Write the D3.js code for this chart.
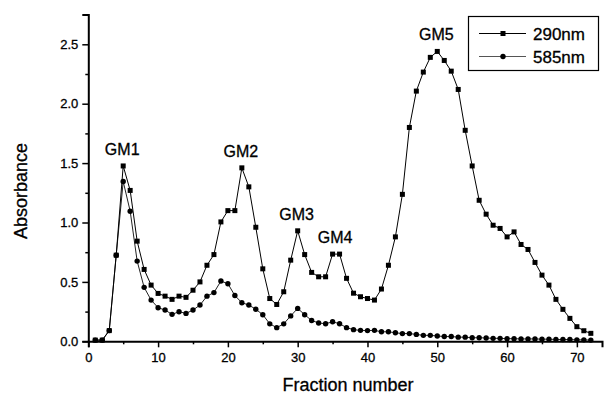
<!DOCTYPE html>
<html>
<head>
<meta charset="utf-8">
<script src="https://cdn.jsdelivr.net/npm/d3@7"></script>
<style>
  html, body { margin: 0; padding: 0; background: #fff; }
  svg { display: block; font-family: "Liberation Sans", Arial, sans-serif; }
  svg text { stroke: #000; stroke-width: 0.3px; }
</style>
</head>
<body>
<svg id="chart" width="606" height="396"></svg>
<script>
const fractions = [
  1, 2, 3, 4, 5, 6, 7, 8, 9, 10, 11, 12, 13, 14, 15, 16, 17, 18,
  19, 20, 21, 22, 23, 24, 25, 26, 27, 28, 29, 30, 31, 32, 33, 34, 35, 36,
  37, 38, 39, 40, 41, 42, 43, 44, 45, 46, 47, 48, 49, 50, 51, 52, 53, 54,
  55, 56, 57, 58, 59, 60, 61, 62, 63, 64, 65, 66, 67, 68, 69, 70, 71, 72
];

const abs290 = [
  0.01, 0.01, 0.09, 0.725, 1.476, 1.27, 0.843, 0.605, 0.473, 0.403, 0.38, 0.353,
  0.38, 0.37, 0.43, 0.50, 0.64, 0.73, 1.005, 1.10, 1.10, 1.46, 1.30, 0.96,
  0.61, 0.36, 0.31, 0.417, 0.683, 0.93, 0.73, 0.58, 0.543, 0.543, 0.734, 0.734,
  0.53, 0.405, 0.375, 0.36, 0.347, 0.44, 0.64, 0.879, 1.237, 1.80, 2.106, 2.266,
  2.39, 2.44, 2.364, 2.274, 2.12, 1.776, 1.476, 1.187, 1.07, 0.977, 0.95, 0.879,
  0.921, 0.815, 0.773, 0.664, 0.557, 0.473, 0.353, 0.269, 0.193, 0.123, 0.089, 0.067
];

const abs585 = [
  0.01, 0.01, 0.09, 0.725, 1.345, 1.095, 0.675, 0.454, 0.347, 0.283, 0.263, 0.227,
  0.249, 0.235, 0.263, 0.305, 0.38, 0.41, 0.507, 0.485, 0.385, 0.325, 0.305, 0.27,
  0.224, 0.147, 0.115, 0.147, 0.214, 0.277, 0.224, 0.175, 0.154, 0.148, 0.164, 0.148,
  0.115, 0.098, 0.092, 0.09, 0.092, 0.08, 0.08, 0.072, 0.065, 0.065, 0.058, 0.05,
  0.05, 0.045, 0.04, 0.04, 0.035, 0.035, 0.03, 0.03, 0.028, 0.025, 0.025, 0.022,
  0.022, 0.02, 0.02, 0.02, 0.018, 0.018, 0.015, 0.015, 0.015, 0.012, 0.012, 0.01
];

const seriesNames = ['290nm', '585nm'];
const xTicks = [0, 10, 20, 30, 40, 50, 60, 70];
const yTicks = [0.0, 0.5, 1.0, 1.5, 2.0, 2.5];
const peakLabels = ['GM1', 'GM2', 'GM3', 'GM4', 'GM5'];
const peakFractions = [5, 22, 30, 35.5, 50];

const svg = d3.select('#chart');

const x = d3.scaleLinear().domain([0, 73.6]).range([88.3, 602]);
const y = d3.scaleLinear().domain([0, 2.75]).range([341.3, 14.6]);

// axes: major ticks outward, minor ticks in between
const xAxis = d3.axisBottom(x).tickValues(xTicks).tickFormat(d3.format('d'))
  .tickSize(6).tickPadding(5);
const xMinor = d3.axisBottom(x).tickValues(xTicks.map((d) => d + 5))
  .tickSize(3).tickFormat('');
const yAxis = d3.axisLeft(y).tickValues(yTicks).tickFormat(d3.format('.1f'))
  .tickSize(6).tickPadding(4);
const yMinor = d3.axisLeft(y).tickValues(yTicks.map((d) => d + 0.25))
  .tickSize(3).tickFormat('');

const styleAxis = (g) => {
  g.select('.domain').attr('stroke', '#000').attr('stroke-width', 2);
  g.selectAll('.tick line').attr('stroke', '#000').attr('stroke-width', 1.5);
  g.selectAll('.tick text').attr('fill', '#000').style('font-size', '13px');
};

svg.append('g').attr('transform', `translate(0,${y(0)})`).call(xMinor).call(styleAxis)
  .select('.domain').remove();
svg.append('g').attr('transform', `translate(${x(0)},0)`).call(yMinor).call(styleAxis)
  .select('.domain').remove();
svg.append('g').attr('transform', `translate(0,${y(0)})`).call(xAxis).call(styleAxis);
svg.append('g').attr('transform', `translate(${x(0)},0)`).call(yAxis).call(styleAxis);

svg.append('text')
  .attr('x', 348).attr('y', 391)
  .attr('text-anchor', 'middle')
  .style('font-size', '18px')
  .text('Fraction number');

svg.append('text')
  .attr('transform', 'translate(27,191) rotate(-90)')
  .attr('text-anchor', 'middle')
  .style('font-size', '18px')
  .text('Absorbance');

// series
const line = d3.line().x((d) => x(d[0])).y((d) => y(d[1]));
const data290 = fractions.map((f, i) => [f, abs290[i]]);
const data585 = fractions.map((f, i) => [f, abs585[i]]);

const plot = svg.append('g');

plot.append('path').datum(data585).attr('d', line)
  .attr('fill', 'none').attr('stroke', '#222').attr('stroke-width', 1);
plot.append('path').datum(data290).attr('d', line)
  .attr('fill', 'none').attr('stroke', '#000').attr('stroke-width', 1);

plot.selectAll('circle.s585').data(data585).join('circle')
  .attr('class', 's585')
  .attr('cx', (d) => x(d[0])).attr('cy', (d) => y(d[1]))
  .attr('r', 2.7).attr('fill', '#000');

plot.selectAll('rect.s290').data(data290).join('rect')
  .attr('class', 's290')
  .attr('x', (d) => x(d[0]) - 2.5).attr('y', (d) => y(d[1]) - 2.5)
  .attr('width', 5).attr('height', 5).attr('fill', '#000');

// peak labels sit just above the 290nm maximum of each peak
const peakY = peakFractions.map((f) => {
  const i = fractions.findIndex((v) => v >= Math.floor(f));
  return abs290[i];
});
svg.selectAll('text.peak').data(peakLabels).join('text')
  .attr('class', 'peak')
  .attr('x', (d, i) => x(peakFractions[i]) - 1)
  .attr('y', (d, i) => y(peakY[i]) - 11)
  .attr('text-anchor', 'middle')
  .style('font-size', '16px')
  .text((d) => d);

// legend
const legend = svg.append('g');
legend.append('rect')
  .attr('x', 468.5).attr('y', 16.5).attr('width', 130).attr('height', 54)
  .attr('fill', '#fff').attr('stroke', '#000').attr('stroke-width', 1.2);

const rows = legend.selectAll('g.row').data(seriesNames).join('g')
  .attr('class', 'row')
  .attr('transform', (d, i) => `translate(0,${33.5 + i * 23})`);
rows.append('line')
  .attr('x1', 479).attr('x2', 526).attr('y1', 0).attr('y2', 0)
  .attr('stroke', (d, i) => (i === 0 ? '#000' : '#555')).attr('stroke-width', 1);
rows.each(function (d, i) {
  const g = d3.select(this);
  if (i === 0) {
    g.append('rect').attr('x', 500.5).attr('y', -2.5).attr('width', 5).attr('height', 5).attr('fill', '#000');
  } else {
    g.append('circle').attr('cx', 503).attr('cy', 0).attr('r', 2.7).attr('fill', '#000');
  }
});
rows.append('text')
  .attr('x', 533).attr('y', 6)
  .style('font-size', '17px')
  .text((d) => d);
</script>
</body>
</html>
